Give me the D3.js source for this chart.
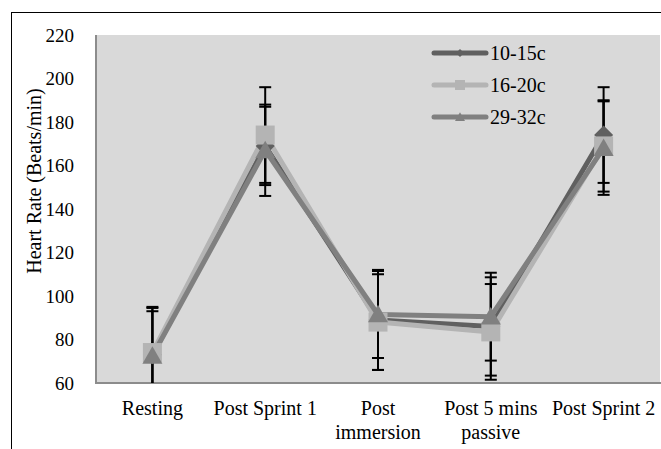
<!DOCTYPE html>
<html>
<head>
<meta charset="utf-8">
<script src="https://cdn.jsdelivr.net/npm/d3@7"></script>
<style>
  html, body { margin: 0; padding: 0; background: #ffffff; }
  svg { display: block; font-family: 'Liberation Serif', 'Times New Roman', serif; }
  svg text { font-family: 'Liberation Serif', 'Times New Roman', serif !important; fill: #000; }
</style>
</head>
<body>
<svg id="chart" width="661" height="449"></svg>
<script>
// ---- data ----
const categories = ["Resting", "Post Sprint 1", "Post\nimmersion", "Post 5 mins\npassive", "Post Sprint 2"];
const seriesNames = ["10-15c", "16-20c", "29-32c"];
const values10_15 = [73, 169, 89, 86, 174];
const sd10_15     = [21.5, 18, 23, 22.6, 22];
const values16_20 = [74, 174, 88, 83.5, 169];
const sd16_20     = [21, 22, 22, 22, 21];
const values29_32 = [72.5, 167, 91.5, 90.5, 168];
const sd29_32     = [20.5, 21, 20, 20.2, 21.5];
const yTicks = [60, 80, 100, 120, 140, 160, 180, 200, 220];
const yTitle = "Heart Rate (Beats/min)";

const FONT = "'Liberation Serif', 'Times New Roman', serif";

const series = [
  { name: seriesNames[0], values: values10_15, sd: sd10_15, color: "#606060", marker: "diamond" },
  { name: seriesNames[1], values: values16_20, sd: sd16_20, color: "#b4b4b4", marker: "square" },
  { name: seriesNames[2], values: values29_32, sd: sd29_32, color: "#808080", marker: "triangle" }
];

// ---- layout ----
const svg = d3.select("#chart");
const plot = { left: 96, right: 660, top: 35, bottom: 383 };

// outer frame
svg.append("rect").attr("x", 11.5).attr("y", 12.5).attr("width", 700).attr("height", 500)
  .attr("fill", "none").attr("stroke", "#000").attr("stroke-width", 1);

const x = d3.scaleBand().domain(categories).range([plot.left, plot.right]);
const y = d3.scaleLinear().domain([60, 220]).range([plot.bottom, plot.top]);
const cx = c => x(c) + x.bandwidth() / 2;

// plot background
svg.append("rect").attr("x", plot.left).attr("y", plot.top)
  .attr("width", plot.right - plot.left).attr("height", plot.bottom - plot.top)
  .attr("fill", "#d9d9d9");

svg.append("clipPath").attr("id", "clip").append("rect")
  .attr("x", plot.left).attr("y", plot.top)
  .attr("width", plot.right - plot.left).attr("height", plot.bottom - plot.top);

// y axis
const yAxis = d3.axisLeft(y).tickValues(yTicks).tickSize(0).tickPadding(22).tickFormat(d3.format("d"));
const yg = svg.append("g").attr("transform", `translate(${plot.left},0)`).call(yAxis)
  .attr("font-family", FONT).attr("font-size", 19);
yg.select(".domain").remove();
yg.selectAll("text").attr("font-family", FONT).attr("font-size", 19).attr("fill", "#000");

// x axis
const xAxis = d3.axisBottom(x).tickSize(0).tickFormat("");
const xg = svg.append("g").attr("transform", `translate(0,${plot.bottom})`).call(xAxis)
  .attr("font-family", FONT).attr("font-size", 20);
xg.select(".domain").remove();
xg.selectAll(".tick").each(function(d) {
  const lines = d.split("\n");
  const t = d3.select(this).append("text").attr("text-anchor", "middle")
    .attr("font-family", FONT).attr("font-size", 20).attr("fill", "#000").attr("y", 32);
  lines.forEach((ln, i) => {
    t.append("tspan").attr("x", 0).attr("dy", i === 0 ? 0 : 24).text(ln);
  });
});

// axis lines
svg.append("line").attr("x1", plot.left).attr("x2", plot.left).attr("y1", plot.top).attr("y2", plot.bottom + 1)
  .attr("stroke", "#8c8c8c").attr("stroke-width", 2);
svg.append("line").attr("x1", plot.left).attr("x2", plot.right + 2).attr("y1", plot.bottom).attr("y2", plot.bottom)
  .attr("stroke", "#8c8c8c").attr("stroke-width", 2);

// y title
svg.append("text").attr("transform", `translate(41,181) rotate(-90)`)
  .attr("text-anchor", "middle").attr("font-family", FONT).attr("font-size", 20).text(yTitle);

// error bars
const eg = svg.append("g").attr("clip-path", "url(#clip)");
series.forEach(s => {
  categories.forEach((c, i) => {
    const v = s.values[i], e = s.sd[i];
    const px = cx(c);
    eg.append("line").attr("x1", px).attr("x2", px).attr("y1", y(v + e)).attr("y2", y(v - e))
      .attr("stroke", "#000").attr("stroke-width", 2);
    [v + e, v - e].forEach(t => {
      eg.append("line").attr("x1", px - 6).attr("x2", px + 6).attr("y1", y(t)).attr("y2", y(t))
        .attr("stroke", "#000").attr("stroke-width", 2);
    });
  });
});

// lines
const line = d3.line().x((d, i) => cx(categories[i])).y(d => y(d));
series.forEach(s => {
  svg.append("path").datum(s.values).attr("d", line)
    .attr("fill", "none").attr("stroke", s.color).attr("stroke-width", 5)
    .attr("stroke-linejoin", "round").attr("stroke-linecap", "round");
});

// markers
function markerPath(type, r) {
  if (type === "diamond") return `M0,${-r}L${r},0L0,${r}L${-r},0Z`;
  if (type === "square") return `M${-r},${-r}H${r}V${r}H${-r}Z`;
  const h = r * 1.75;
  return `M0,${-h * 0.55}L${r},${h * 0.45}L${-r},${h * 0.45}Z`;
}
series.forEach(s => {
  const r = s.marker === "diamond" ? 9.5 : (s.marker === "square" ? 9.5 : 10);
  categories.forEach((c, i) => {
    svg.append("path").attr("d", markerPath(s.marker, r))
      .attr("transform", `translate(${cx(c)},${y(s.values[i])})`)
      .attr("fill", s.color);
  });
});

// legend
const lg = svg.append("g");
series.forEach((s, i) => {
  const ly = 53 + i * 32;
  lg.append("line").attr("x1", 434).attr("x2", 486).attr("y1", ly).attr("y2", ly)
    .attr("stroke", s.color).attr("stroke-width", 5).attr("stroke-linecap", "round");
  const r = s.marker === "diamond" ? 4 : 5;
  lg.append("path").attr("d", markerPath(s.marker, r))
    .attr("transform", `translate(460,${ly})`).attr("fill", s.color);
  lg.append("text").attr("x", 490).attr("y", ly).attr("dy", "0.35em")
    .attr("font-family", FONT).attr("font-size", 20).attr("fill", "#000").text(s.name);
});
</script>
</body>
</html>
